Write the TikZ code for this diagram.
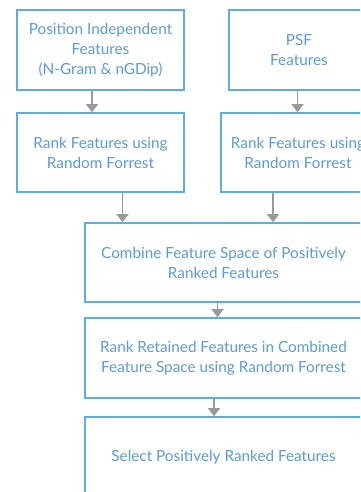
\documentclass[tikz,border=0pt]{standalone}
\usepackage{fontspec}
\setmainfont{Lato}
\usetikzlibrary{arrows.meta,calc}
\definecolor{boxblue}{HTML}{5DADE2}
\definecolor{textblue}{HTML}{5B9BD5}
\definecolor{arrowgray}{HTML}{9A9A9A}
\begin{document}
\begin{tikzpicture}[x=1pt, y=-1pt,
    every node/.style = {shape=rectangle, draw=boxblue, line width=1.6pt,
      align=center, text=textblue, inner sep=0pt,
      font=\fontsize{15.3}{20}\selectfont},
    flow/.style = {draw=arrowgray, line width=1.5pt,
      -{Triangle[width=12pt, length=8pt]}}]
    \clip (0,0) rectangle (360,492);
    \node[minimum width=167pt, minimum height=80pt] (pif) at (100.5,50)
      {Position Independent\\Features\\(N-Gram \& nGDip)};
    \node[minimum width=140pt, minimum height=80pt] (psf) at (299,50)
      {PSF\\Features};
    \node[minimum width=167pt, minimum height=79pt] (rankpif) at (100.5,152.5)
      {Rank Features using\\Random Forrest};
    \node[minimum width=154pt, minimum height=79pt] (rankpsf) at (298,152.5)
      {Rank Features using\\Random Forrest};
    \node[minimum width=277pt, minimum height=79pt] (combine) at (223.5,262.5)
      {Combine Feature Space of Positively\\Ranked Features};
    \node[minimum width=277pt, minimum height=80pt] (rerank) at (223.5,358)
      {Rank Retained Features in Combined\\Feature Space using Random Forrest};
    \node[minimum width=277pt, minimum height=80pt] (select) at (223.5,457)
      {Select Positively Ranked Features};
    \draw[flow] ([xshift=-8.5pt]pif.south) -- ([xshift=-8.5pt]pif.south |- rankpif.north);
    \draw[flow] ([xshift=-1.5pt]psf.south) -- ([xshift=-1.5pt]psf.south |- rankpsf.north);
    \draw[flow] ([xshift=22pt]rankpif.south) -- ([xshift=22pt]rankpif.south |- combine.north);
    \draw[flow] ([xshift=-25pt]rankpsf.south) -- ([xshift=-25pt]rankpsf.south |- combine.north);
    \draw[flow] ([xshift=-6pt]combine.south) -- ([xshift=-6pt]combine.south |- rerank.north);
    \draw[flow] ([xshift=-9.5pt]rerank.south) -- ([xshift=-9.5pt]rerank.south |- select.north);
\end{tikzpicture}
\end{document}
